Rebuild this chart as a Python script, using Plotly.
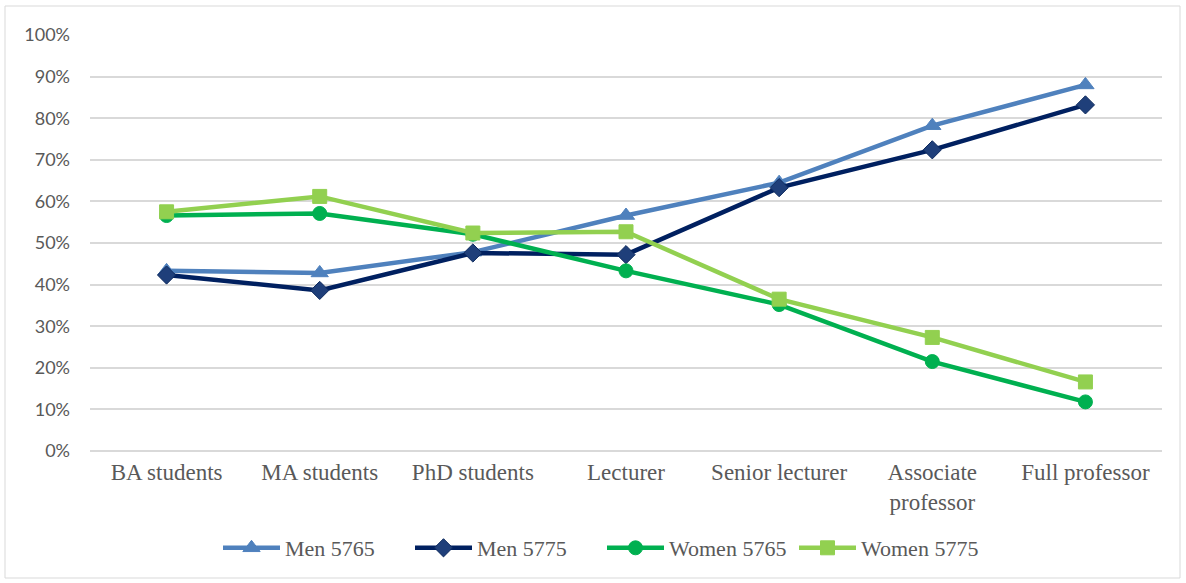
import plotly.graph_objects as go

categories = ["BA students", "MA students", "PhD students", "Lecturer",
              "Senior lecturer", "Associate<br>professor", "Full professor"]
men_5765 = [43.3, 42.8, 47.8, 56.6, 64.5, 78.2, 88.0]
men_5775 = [42.3, 38.6, 47.6, 47.2, 63.3, 72.4, 83.2]
women_5765 = [56.6, 57.1, 52.1, 43.3, 35.2, 21.5, 11.8]
women_5775 = [57.5, 61.2, 52.4, 52.7, 36.5, 27.3, 16.6]
y_ticks = [0, 10, 20, 30, 40, 50, 60, 70, 80, 90, 100]
y_tick_labels = [f"{v}%" for v in y_ticks]

W, H = 1186, 583
L, R, T, B = 90, 24, 35, 132

fig = go.Figure()
series = [
    ("Men 5765", men_5765, "#4F81BD", "triangle-up", "#4F81BD", "#4F81BD", 15),
    ("Men 5775", men_5775, "#002060", "diamond", "#1F3F7A", "#0E2A5E", 14),
    ("Women 5765", women_5765, "#00B050", "circle", "#00B050", "#00B050", 14),
    ("Women 5775", women_5775, "#92D050", "square", "#92D050", "#92D050", 14),
]
for name, vals, lc, sym, mfill, mline, ms in series:
    fig.add_trace(go.Scatter(
        x=categories, y=vals, name=name, mode="lines+markers",
        line=dict(color=lc, width=4.5),
        marker=dict(symbol=sym, size=ms, color=mfill, line=dict(color=mline, width=1)),
    ))

pw = W - L - R
ph = H - T - B
def px_x(p):
    return (p - L) / pw
def px_y(p):
    return (H - B - p) / ph

fig.add_shape(type="rect", xref="paper", yref="paper",
              x0=px_x(5), x1=px_x(1180), y0=px_y(578), y1=px_y(6),
              line=dict(color="#D9D9D9", width=1), fillcolor="rgba(0,0,0,0)", layer="below")

fig.update_layout(
    width=W, height=H,
    margin=dict(l=L, r=R, t=T, b=B),
    paper_bgcolor="white", plot_bgcolor="white",
    showlegend=True,
    legend=dict(orientation="h", x=px_x(602), xanchor="center", y=px_y(548), yanchor="middle",
                font=dict(family="Liberation Serif", size=22, color="#595959"),
                itemwidth=57, entrywidth=120, tracegroupgap=0),
    xaxis=dict(showgrid=False, showline=False, ticks="", range=[-0.5, 6.5],
               ticklabelstandoff=5,
               tickfont=dict(family="Liberation Serif", size=23, color="#595959")),
    yaxis=dict(range=[0, 100], tickvals=y_ticks, ticktext=y_tick_labels,
               showgrid=True, gridcolor="#D9D9D9", gridwidth=1.5,
               zeroline=True, zerolinecolor="#D9D9D9", zerolinewidth=1.5,
               showline=False, ticks="", ticklabelstandoff=19,
               tickfont=dict(family="Lato", size=18, color="#595959")),
)

fig.write_html("out.html", config={"displayModeBar": False},
               post_script="document.body.style.margin='0';")
